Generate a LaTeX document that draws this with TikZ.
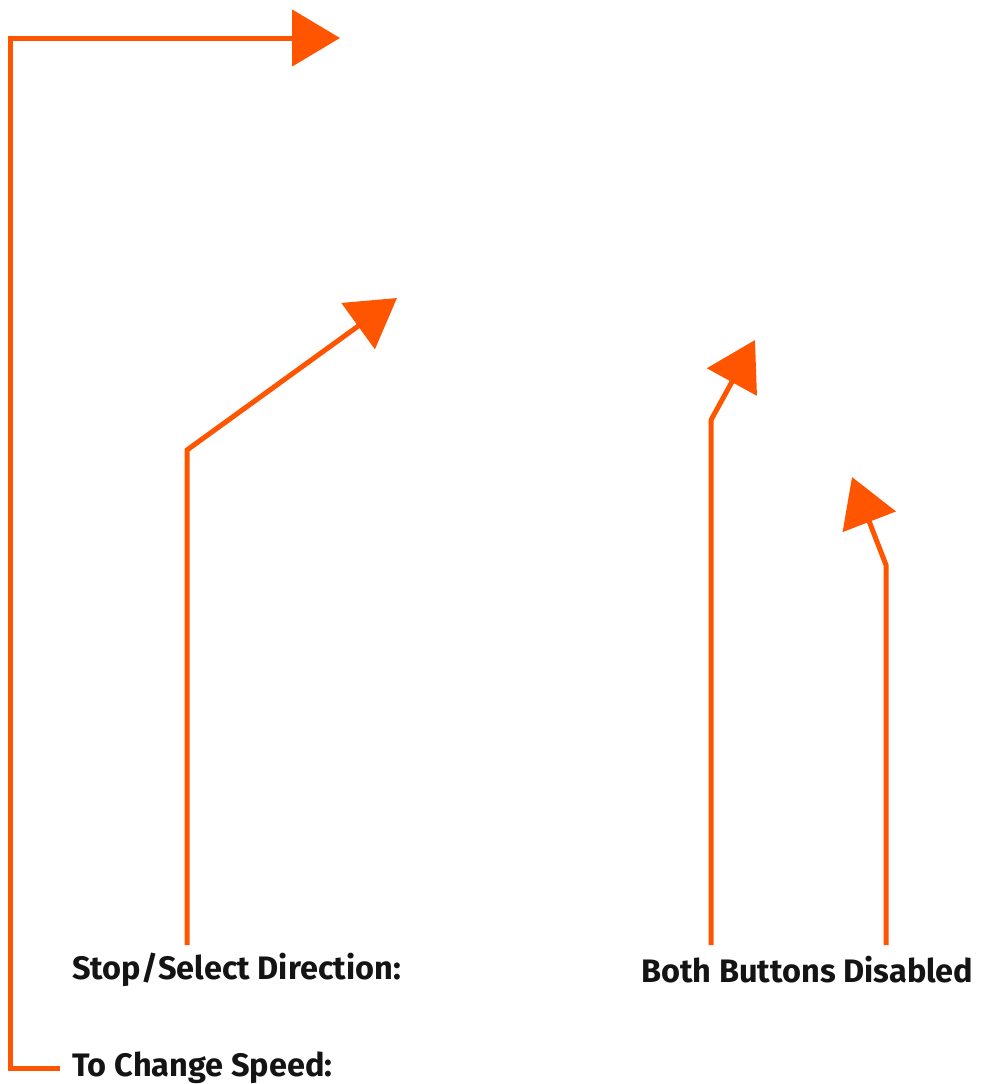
\documentclass[tikz,border=0pt]{standalone}
\usepackage{fontspec}
\setmainfont{Fira Sans}
\usetikzlibrary{arrows.meta}
\definecolor{orng}{HTML}{FF5500}
\definecolor{txt}{HTML}{141414}
\tikzset{
  lead/.style={draw=orng, line width=5pt, line join=miter, -{Triangle[length=48pt,width=56pt]}},
  lbl/.style={anchor=west, inner sep=0pt, text=txt, font=\fontsize{32.5}{36}\selectfont\bfseries},
}
\begin{document}
\begin{tikzpicture}[x=1pt,y=-1pt]
\useasboundingbox (0,0) rectangle (980,1084);
\node[lbl] (stop) at (72,970) {Stop/Select Direction:};
\node[lbl] (both) at (641,970) {Both Buttons Disabled};
\node[lbl] (speed) at (72,1068) {To Change Speed:};
\coordinate (t1) at (340,38);
\coordinate (t2) at (397,298);
\coordinate (t3) at (755,340);
\coordinate (t4) at (852,477);
\draw[lead] (speed.west) ++(-12,0) -- (10,1068) -- (10,38) -- (t1);
\draw[lead] (187,945) -- (187,450) -- (t2);
\draw[lead] (711,945) -- (711,420) -- (t3);
\draw[lead] (886,945) -- (886,565) -- (t4);
\end{tikzpicture}
\end{document}
